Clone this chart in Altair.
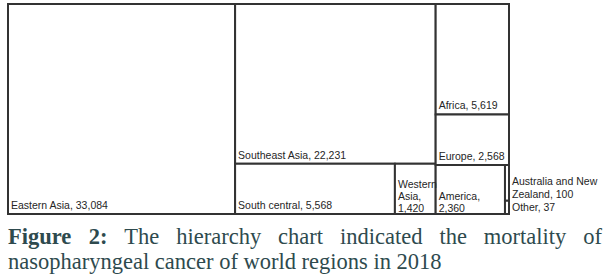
import textwrap
import altair as alt
import pandas as pd

# ---- data ----
regions = ["Eastern Asia", "Southeast Asia", "South central", "Western Asia",
           "Africa", "Europe", "America", "Australia and New Zealand", "Other"]
deaths = [33084, 22231, 5568, 1420, 5619, 2568, 2360, 100, 37]

# hierarchy (indices into regions); levels alternate horizontal / vertical slicing
hierarchy = [[0], [1, [2, 3]], [4, 5, [6, [7, 8]]]]

# label wrapping width (characters) for narrow cells
wrap_width = {"Western Asia": 7, "America": 8, "Australia and New Zealand": 17}

caption_bold = ["Figure", "2:"]
caption_words = ["The", "hierarchy", "chart", "indicated", "the", "mortality", "of"]
caption_line2 = "nasopharyngeal cancer of world regions in 2018"

# ---- layout (styles / positions) ----
W, H = 501, 210
ORIGIN_X = 8
CAP_COLOR = "#2e4a4e"
CAP_FONT = "Liberation Serif"
CAP_SIZE = 22.5
CAP_LEFT, CAP_RIGHT = 8, 602  # justified first caption line (canvas px)

# Times / Liberation Serif advance widths (1/1000 em) for justification
TIMES = dict(a=444, c=444, d=500, e=444, f=333, g=500, h=500, i=278, l=278,
             m=778, n=500, o=500, r=333, t=278, y=500, T=611)
TIMES_BOLD = {"F": 611, "i": 278, "g": 500, "u": 556, "r": 444, "e": 444,
              "2": 500, ":": 333}


def word_w(word, table):
    return sum(table.get(ch, 500) for ch in word) / 1000 * CAP_SIZE


cap_words = [(w, True) for w in caption_bold] + [(w, False) for w in caption_words]
widths = [word_w(w, TIMES_BOLD if b else TIMES) for w, b in cap_words]
gap = (CAP_RIGHT - CAP_LEFT - sum(widths)) / (len(widths) - 1)
cap_rows, xpos = [], CAP_LEFT
for (w, b), ww in zip(cap_words, widths):
    cap_rows.append(dict(w=w, bold=b, px=xpos - ORIGIN_X))
    xpos += ww + gap
cap_df = pd.DataFrame(cap_rows)


def weight(node):
    if isinstance(node, int):
        return deaths[node]
    return sum(weight(c) for c in node)


def layout(node, x0, y0, x1, y1, horizontal, out):
    if isinstance(node, int):
        out[node] = (x0, y0, x1, y1)
        return
    tot = weight(node)
    pos = x0 if horizontal else y0
    for child in node:
        frac = weight(child) / tot
        if horizontal:
            w = (x1 - x0) * frac
            layout(child, pos, y0, pos + w, y1, not horizontal, out)
        else:
            w = (y1 - y0) * frac
            layout(child, x0, pos, x1, pos + w, not horizontal, out)
        pos += w


total = sum(deaths)
cells = {}
layout(hierarchy, 0, 0, total, 1, True, cells)

rows = []
for i, name in enumerate(regions):
    x0, y0, x1, y1 = cells[i]
    label = f"{name}, {deaths[i]:,}"
    lines = textwrap.wrap(label, wrap_width[name]) if name in wrap_width else [label]
    n = len(lines)
    outside = (x1 - x0) / total * W < 10
    if outside:
        lh, last_base = 13, 3
    else:
        lh, last_base = 12, (2 if n > 1 else 5)
    lift = (n - 1) * lh + last_base - 3  # mark dy is -3
    rows.append(dict(region=name, deaths=deaths[i], x0=x0, x1=x1, y0=y0, y1=y1,
                     label="\n".join(lines), lx=total if outside else x0,
                     ly=y1 - lift / H, outside=outside))
df = pd.DataFrame(rows)

xs = alt.Scale(domain=[0, total], nice=False, zero=False)
ys = alt.Scale(domain=[0, 1], reverse=True, nice=False, zero=False)

base = alt.Chart(df)
rects = base.mark_rect(fill="white", stroke="#333333", strokeWidth=2).encode(
    x=alt.X("x0:Q", scale=xs, axis=None),
    x2="x1:Q",
    y=alt.Y("y0:Q", scale=ys, axis=None),
    y2="y1:Q",
)
label_enc = dict(
    x=alt.X("lx:Q", scale=xs, axis=None),
    y=alt.Y("ly:Q", scale=ys, axis=None),
    text="label:N",
)
label_style = dict(align="left", baseline="alphabetic", dx=3, dy=-3,
                   font="Liberation Sans", fontSize=10.5, color="#262626",
                   lineBreak="\n")
labels_in = base.transform_filter("!datum.outside").mark_text(
    lineHeight=12, **label_style).encode(**label_enc)
labels_out = base.transform_filter("datum.outside").mark_text(
    lineHeight=13, **label_style).encode(**label_enc)

cap1b = alt.Chart(cap_df).transform_filter("datum.bold").mark_text(
    align="left", baseline="alphabetic", font=CAP_FONT, fontSize=CAP_SIZE,
    fontWeight="bold", color=CAP_COLOR).encode(
    x=alt.X("px:Q", scale=None), y=alt.value(240), text="w:N")
cap1 = alt.Chart(cap_df).transform_filter("!datum.bold").mark_text(
    align="left", baseline="alphabetic", font=CAP_FONT, fontSize=CAP_SIZE,
    color=CAP_COLOR).encode(
    x=alt.X("px:Q", scale=None), y=alt.value(240), text="w:N")
cap2 = alt.Chart(pd.DataFrame({"w": [caption_line2]})).mark_text(
    align="left", baseline="alphabetic", font=CAP_FONT, fontSize=CAP_SIZE,
    color=CAP_COLOR).encode(
    x=alt.value(0), y=alt.value(265), text="w:N")

chart = alt.layer(rects, labels_in, labels_out, cap1b, cap1, cap2).properties(
    width=W, height=H,
    padding={"left": 7, "top": 3, "right": 0, "bottom": 0},
    background="white",
).configure_view(stroke=None)

chart.save("out.html", embed_options={"renderer": "svg", "actions": False})
